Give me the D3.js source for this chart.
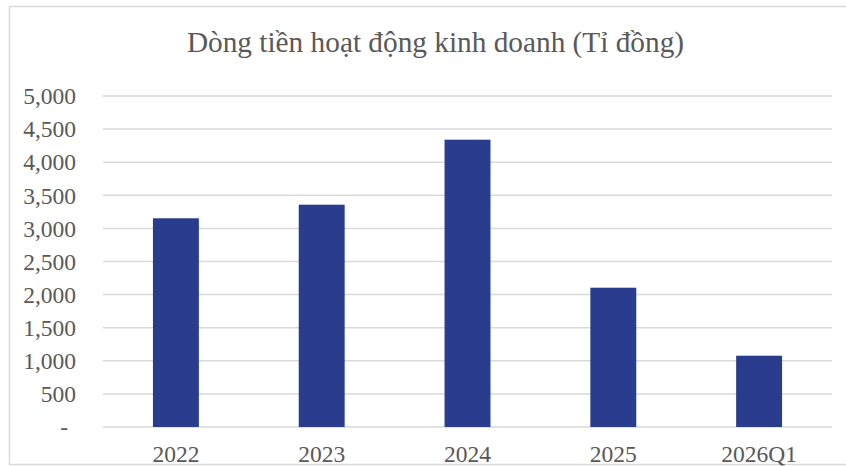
<!DOCTYPE html>
<html>
<head>
<meta charset="utf-8">
<script src="https://cdn.jsdelivr.net/npm/d3@7"></script>
<style>
  html, body { margin: 0; padding: 0; background: #fff; }
  svg { display: block; }
  text { font-family: "Liberation Serif", "Times New Roman", serif; fill: #595959; }
</style>
</head>
<body>
<svg id="chart" width="846" height="466"></svg>
<script>
// Operating cash flow by period (billion VND)
const categories = ["2022", "2023", "2024", "2025", "2026Q1"];
const cashFlow = [3153, 3358, 4340, 2104, 1077];
const yTicks = [0, 500, 1000, 1500, 2000, 2500, 3000, 3500, 4000, 4500, 5000];
const title = "Dòng tiền hoạt động kinh doanh (Tỉ đồng)";

const svg = d3.select("#chart");
const W = 846, H = 466;
const plot = { left: 103, right: 832, top: 96, bottom: 427 };

// outer chart frame
svg.append("rect")
  .attr("x", 9.5).attr("y", 6.5)
  .attr("width", 846).attr("height", 458)
  .attr("fill", "#fff").attr("stroke", "#d9d9d9").attr("stroke-width", 1.5);

const x = d3.scaleBand()
  .domain(categories)
  .range([plot.left, plot.right])
  .paddingInner(0.685)
  .paddingOuter(0.3425);

const y = d3.scaleLinear()
  .domain([0, 5000])
  .range([plot.bottom, plot.top]);

// horizontal gridlines
svg.append("g")
  .selectAll("line")
  .data(yTicks)
  .join("line")
  .attr("x1", plot.left).attr("x2", plot.right)
  .attr("y1", d => y(d)).attr("y2", d => y(d))
  .attr("stroke", "#d9d9d9").attr("stroke-width", 1.5);

// y-axis labels
const fmt = d3.format(",");
const yAxis = d3.axisLeft(y)
  .tickValues(yTicks)
  .tickSize(0)
  .tickPadding(0)
  .tickFormat(d => d === 0 ? "-" : fmt(d));
const gy = svg.append("g")
  .attr("transform", `translate(76,0)`)
  .call(yAxis);
gy.select(".domain").remove();
gy.selectAll("text")
  .attr("font-size", "23.5px")
  .attr("font-family", "Liberation Serif, Times New Roman, serif")
  .attr("fill", "#595959")
  .attr("dy", "0.33em")
  .attr("x", d => d === 0 ? -8 : 0);

// bars
svg.append("g")
  .selectAll("rect")
  .data(cashFlow)
  .join("rect")
  .attr("x", (d, i) => x(categories[i]))
  .attr("width", x.bandwidth())
  .attr("y", d => y(d))
  .attr("height", d => y(0) - y(d))
  .attr("fill", "#293c8e");

// x-axis labels
const xAxis = d3.axisBottom(x).tickSize(0).tickPadding(0);
const gx = svg.append("g")
  .attr("transform", `translate(0,${plot.bottom})`)
  .call(xAxis);
gx.select(".domain").remove();
gx.selectAll("text")
  .attr("font-size", "23.5px")
  .attr("font-family", "Liberation Serif, Times New Roman, serif")
  .attr("fill", "#595959")
  .attr("dy", null)
  .attr("y", 34.5);

// title
svg.append("text")
  .attr("x", 435.5).attr("y", 52)
  .attr("text-anchor", "middle")
  .attr("font-size", "29.3px")
  .text(title);
</script>
</body>
</html>
